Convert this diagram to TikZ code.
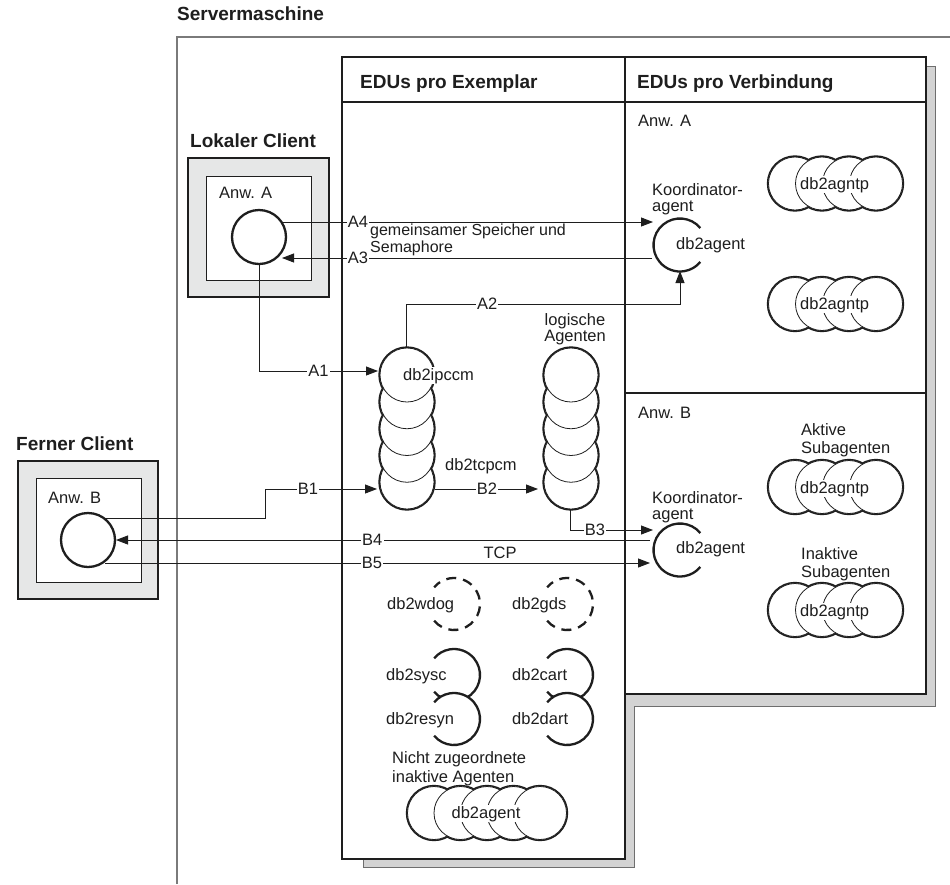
\documentclass[tikz,border=0pt]{standalone}
\usepackage{fontspec}
\setmainfont{Liberation Sans}
\usetikzlibrary{arrows.meta}
\definecolor{ink}{HTML}{1E1E1E}
\definecolor{framegray}{HTML}{7A7A7A}
\definecolor{clientfill}{HTML}{E6E7E7}
\definecolor{shadowfill}{HTML}{D3D3D3}
\definecolor{shadowline}{HTML}{6E6E6E}
\newcommand\myHStack[5]{%
  \foreach \idx in {1,...,#3} \draw[ink,line width=3.4pt] ({#1+(\idx-1)*#4},#2) circle[radius=#5pt];
  \foreach \idx in {1,...,#3} \fill[white] ({#1+(\idx-1)*#4},#2) circle[radius=#5pt];
  \foreach \idx in {1,...,#3} \draw[ink,line width=0.8pt,fill=white] ({#1+(\idx-1)*#4},#2) circle[radius=#5pt];
}
\newcommand\myVStack[5]{%
  \foreach \idx in {1,...,#3} \draw[ink,line width=3.4pt] (#1,{#2+(\idx-1)*#4}) circle[radius=#5pt];
  \foreach \idx in {1,...,#3} \fill[white] (#1,{#2+(\idx-1)*#4}) circle[radius=#5pt];
  \foreach \idx in {#3,...,1} \draw[ink,line width=0.8pt,fill=white] (#1,{#2+(\idx-1)*#4}) circle[radius=#5pt];
}
\begin{document}
\begin{tikzpicture}[x=1pt,y=-1pt,
  every node/.style={text=ink},
  conn/.style={draw=ink,line width=0.9pt},
  arr/.style={-{Triangle[length=12pt,width=9pt]}},
  lbl/.style={fill=white,inner sep=1.2pt,font=\fontsize{16.5}{16}\selectfont},
  txt/.style={inner sep=0pt,font=\fontsize{16.5}{16}\selectfont},
  btxt/.style={inner sep=0pt,font=\fontsize{19}{19}\selectfont\bfseries},
  ring/.style={draw=ink,line width=2.3pt},
  box/.style={draw=ink,line width=2.4pt,fill=white},
  clientbox/.style={draw=ink,line width=2.4pt,fill=clientfill},
  innerbox/.style={draw=ink,line width=1pt,fill=white}]
\useasboundingbox (0,0) rectangle (950,884);
\fill[white] (0,0) rectangle (950,884);
% server frame
\draw[framegray,line width=1.6pt] (177,884) -- (177,37) -- (950,37);
\node[btxt,anchor=base west] (srv) at (177,20) {Servermaschine};
% shadow
\draw[shadowline,line width=0.8pt,fill=shadowfill] (363,859) -- (363,867) -- (634,867) -- (634,706) -- (935,706) -- (935,66) -- (926,66) -- (926,694) -- (625,694) -- (625,859) -- cycle;
% EDU boxes
\draw[box] (342,57) rectangle (625,859);
\draw[box] (625,57) rectangle (926,694);
\draw[ink,line width=2.4pt] (342,102) -- (926,102);
\draw[ink,line width=2.4pt] (625,393) -- (926,393);
\node[btxt,anchor=base west] (hdrE) at (360,88) {EDUs pro Exemplar};
\node[btxt,anchor=base west] (hdrV) at (637,88) {EDUs pro Verbindung};
\node[txt,anchor=base west] (anwAr) at (638,126) {Anw. A};
\node[txt,anchor=base west] (anwBr) at (638,418) {Anw. B};
% clients
\node[btxt,anchor=base west] (lcl) at (190,147) {Lokaler Client};
\draw[clientbox] (188,158) rectangle (329,297);
\draw[innerbox] (206,176) rectangle (311,280);
\node[txt,anchor=base west] (anwA) at (219,198) {Anw. A};
\node[circle,ring,minimum size=54pt,inner sep=0pt] (appA) at (259,237) {};
\node[btxt,anchor=base west] (fcl) at (16,450) {Ferner Client};
\draw[clientbox] (18,461) rectangle (158,599);
\draw[innerbox] (36,478) rectangle (141,582);
\node[txt,anchor=base west] (anwB) at (48,503) {Anw. B};
\node[circle,ring,minimum size=54pt,inner sep=0pt] (appB) at (88,540) {};
% coordinates
\coordinate (kA) at (680,245);
\coordinate (kB) at (680,550);
\coordinate (a4s) at (282,222); \coordinate (a4e) at (653,222);
\coordinate (a3s) at (652,258); \coordinate (a3e) at (282,258);
\coordinate (a1e) at (378,371);
\coordinate (a2s) at (406,348); \coordinate (a2m) at (680,304); \coordinate (a2e) at (680,271);
\coordinate (b1s) at (103,518); \coordinate (b1a) at (265,518); \coordinate (b1e) at (377,489);
\coordinate (b2s) at (435,489); \coordinate (b2e) at (538,489);
\coordinate (b3s) at (570,509); \coordinate (b3e) at (653,530);
\coordinate (b4s) at (650,540); \coordinate (b4e) at (116,540);
\coordinate (b5s) at (105,563); \coordinate (b5e) at (650,563);
% connectors
\draw[conn,arr] (a4s) -- node[lbl,pos=0.205]{A4} (a4e);
\draw[conn,arr] (a3s) -- node[lbl,pos=0.795]{A3} (a3e);
\node[txt,anchor=north west,align=left,font=\fontsize{16}{16.5}\selectfont] (shm) at (370,224) {gemeinsamer Speicher und\\Semaphore};
\draw[conn,arr] (appA.south) |- node[lbl,pos=0.75]{A1} (a1e);
\draw[conn,arr] (a2s) |- node[lbl,pos=0.648]{A2} (a2m) -- (a2e);
\draw[conn,arr] (b1s) -- (b1a) |- node[lbl,pos=0.692]{B1} (b1e);
\draw[conn,arr] (b2s) -- node[lbl,pos=0.505]{B2} (b2e);
\draw[conn,arr] (b3s) |- node[lbl,pos=0.65]{B3} (b3e);
\draw[conn,arr] (b4s) -- node[lbl,pos=0.52]{B4} (b4e);
\draw[conn,arr] (b5s) -- node[lbl,pos=0.49]{B5} (b5e);
\node[txt] (tcp) at (500,553) {TCP};
% coordinator agents
\draw[ring] (kA) ++(40:26.5pt) arc[start angle=40,end angle=320,radius=26.5pt];
\node[txt,anchor=base west] (kAt) at (676,249) {db2agent};
\node[txt,anchor=north west,align=left,font=\fontsize{16.5}{16}\selectfont] (kAl) at (652,183) {Koordinator-\\agent};
\draw[ring] (kB) ++(40:26.5pt) arc[start angle=40,end angle=320,radius=26.5pt];
\node[txt,anchor=base west] (kBt) at (676,553) {db2agent};
\node[txt,anchor=north west,align=left,font=\fontsize{16.5}{16}\selectfont] (kBl) at (652,491) {Koordinator-\\agent};
% subagents
\myHStack{795}{183.5}{4}{27}{26.5}
\node[txt,anchor=base west,fill=white,inner sep=1pt] (sa1) at (799,189) {db2agntp};
\myHStack{795}{304}{4}{27}{26.5}
\node[txt,anchor=base west,fill=white,inner sep=1pt] (sa2) at (799,309) {db2agntp};
\node[txt,anchor=north west,align=left,font=\fontsize{16.5}{18.5}\selectfont] (akt) at (801,423) {Aktive\\Subagenten};
\myHStack{795}{487}{4}{27}{26.5}
\node[txt,anchor=base west,fill=white,inner sep=1pt] (sb1) at (799,493) {db2agntp};
\node[txt,anchor=north west,align=left,font=\fontsize{16.5}{18.5}\selectfont] (inakt) at (801,547) {Inaktive\\Subagenten};
\myHStack{795}{610}{4}{27}{26.5}
\node[txt,anchor=base west,fill=white,inner sep=1pt] (sb2) at (799,616) {db2agntp};
% per-instance EDUs
\myVStack{407}{375}{5}{26.75}{27}
\node[txt,anchor=base west,fill=white,inner sep=1pt] (ipccm) at (402,380) {db2ipccm};
\node[txt,anchor=base west] (tcpcm) at (445,470) {db2tcpcm};
\myVStack{571}{375}{5}{26.75}{27}
\node[txt,anchor=north,align=center,font=\fontsize{16.5}{16}\selectfont] (logA) at (575,313) {logische\\Agenten};
% dashed
\coordinate (wdog) at (454,604);
\coordinate (gds) at (567,604);
\draw[ring,dash pattern=on 10pt off 7pt] (wdog) ++(-140:26pt) arc[start angle=-140,end angle=140,radius=26pt];
\node[txt,anchor=base west] (wdogt) at (387,609) {db2wdog};
\draw[ring,dash pattern=on 10pt off 7pt] (gds) ++(-140:26pt) arc[start angle=-140,end angle=140,radius=26pt];
\node[txt,anchor=base west] (gdst) at (512,609) {db2gds};
% sysc / resyn, cart / dart
\coordinate (sysc) at (454,675); \coordinate (resyn) at (454,719);
\coordinate (cart) at (567,675); \coordinate (dart) at (567,719);
\draw[ring] (sysc) ++(-140:26pt) arc[start angle=-140,end angle=140,radius=26pt];
\fill[white] (resyn) circle[radius=26pt];
\draw[ring] (resyn) ++(-140:26pt) arc[start angle=-140,end angle=140,radius=26pt];
\draw[ring] (cart) ++(-140:26pt) arc[start angle=-140,end angle=140,radius=26pt];
\fill[white] (dart) circle[radius=26pt];
\draw[ring] (dart) ++(-140:26pt) arc[start angle=-140,end angle=140,radius=26pt];
\node[txt,anchor=base west] (syscT) at (386,680) {db2sysc};
\node[txt,anchor=base west] (resynT) at (386,724) {db2resyn};
\node[txt,anchor=base west] (cartT) at (512,680) {db2cart};
\node[txt,anchor=base west] (dartT) at (512,724) {db2dart};
% idle agents
\node[txt,anchor=north west,align=left,font=\fontsize{16.5}{19}\selectfont] (nza) at (392,751) {Nicht zugeordnete\\inaktive Agenten};
\myHStack{434}{813}{5}{26.5}{26.5}
\node[txt,anchor=base,fill=white,inner sep=1pt] (idle) at (486,818) {db2agent};
\end{tikzpicture}
\end{document}
